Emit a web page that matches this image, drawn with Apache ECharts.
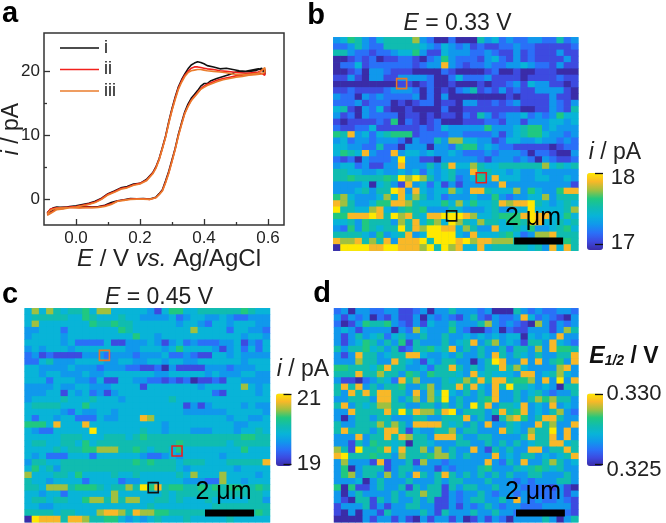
<!DOCTYPE html>
<html>
<head>
<meta charset="utf-8">
<style>html,body{margin:0;padding:0;background:#fff}#chart{width:666px;height:523px;filter:blur(0.35px)}</style>
<script src="https://cdn.jsdelivr.net/npm/echarts@6/dist/echarts.min.js"></script>
</head>
<body>
<div id="chart"></div>
<script>
// ---- panel a: cyclic voltammograms ----
const potential = [-.09,-.08,-.07,-.06,-.05,-.03,-.01,.01,.03,.05,.07,.09,.11,.13,.15,.17,.19,.21,.23,.25,.26,.27,.28,.29,.30,.31,.32,.33,.34,.35,.36,.37,.38,.39,.40,.41,.42,.44,.46,.48,.50,.52,.54,.56,.58,.59,
  .59,.57,.55,.53,.51,.49,.47,.45,.43,.41,.40,.39,.38,.37,.36,.35,.34,.33,.32,.31,.30,.29,.28,.27,.26,.25,.24,.22,.20,.18,.16,.14,.12,.10,.08,.06,.04,.02,0,-.02,-.04,-.06,-.08,-.09];
const currentI = [-2.1,-1.6,-1.3,-1.2,-1.25,-1.2,-1.15,-1.2,-1.1,-1.2,-1.1,-.9,-.5,-.2,-.05,.15,.1,.15,.05,.35,.9,1.5,2.9,4.4,6.2,8.0,10.2,12.0,13.7,14.9,15.8,16.4,17.0,17.7,18.1,18.1,18.5,18.9,19.2,19.5,19.9,19.9,20,20.1,20.5,19.5,
  20.2,20.4,20.2,20.0,20.1,20.3,20.5,20.4,20.7,20.9,21.2,21.4,21.5,21.3,21.0,20.4,19.6,18.7,17.6,16.0,14.2,12.2,9.9,8.1,6.4,5.1,4.2,3.1,2.5,2.4,2.0,1.8,1.3,.9,.2,-.3,-.6,-.8,-1,-1.1,-1.3,-1.3,-2.0,-2.3];
const currentII = [-2.2,-1.5,-1.4,-1.3,-1.3,-1.25,-1.2,-1.3,-1.2,-1.25,-1.2,-1.0,-.7,-.25,-.1,.05,.1,.1,.0,.3,.8,1.4,2.7,4.2,6.0,7.9,10.0,11.8,13.5,14.6,15.5,16.1,16.7,17.3,17.7,18.0,18.2,18.6,18.9,19.1,19.3,19.4,19.5,19.6,19.7,19.4,
  20.4,19.9,19.8,19.7,19.8,19.9,20.0,20.1,20.3,20.4,20.5,20.6,20.7,20.7,20.5,20.0,19.4,18.5,17.4,15.8,14.0,12.0,9.8,8.0,6.3,5.0,4.1,3.0,2.5,2.3,1.9,1.7,1.2,.8,.1,-.4,-.7,-.9,-1.1,-1.2,-1.4,-1.5,-2.1,-2.4];
const currentIII = [-2.3,-1.7,-1.5,-1.4,-1.35,-1.3,-1.3,-1.35,-1.3,-1.3,-1.25,-1.1,-.8,-.3,-.15,0,.05,.05,0,.25,.75,1.3,2.6,4.1,5.9,7.8,9.9,11.7,13.4,14.5,15.4,16.0,16.6,17.2,17.5,17.8,18.0,18.4,18.7,18.9,19.1,19.2,19.4,19.5,19.6,19.9,
  20.6,19.7,19.6,19.5,19.5,19.6,19.8,19.9,20.0,20.1,20.2,20.3,20.3,20.2,20.1,19.8,19.2,18.3,17.2,15.6,13.9,11.9,9.7,7.9,6.2,4.9,4.0,2.9,2.4,2.2,1.8,1.6,1.1,.7,.0,-.5,-.8,-1.0,-1.2,-1.3,-1.5,-1.6,-2.2,-2.5];
const seriesNames = ['i','ii','iii'];
const xTickLabels = [0,0.2,0.4,0.6];
const xMinorTicks = [0.1,0.3,0.5];
const yTickLabels = [0,10,20];
const yMinorTicks = [5,15];

// ---- panels b, c, d: maps, one digit per cell (0 = bottom of colour scale, 9 = top) ----
const mapB = [
"34653245555732002 00053423223322523","22353225555543243 23121122322111112",
"55322122344631143 33223211312111311","00121201122102363 22213421312111131","02241222222123383 21223223343221311",
"00120332111000021 00001200100111000","11310331133332002 42223111101111211","00000000011012001 00010112314331101",
"11211112333202010 23512131211333310","32203232222302030 00000001011113110",
"22231222010122011 03311212311113213","45103241001000020 01111111100113215","31203222201101011 02153123342323644",
"10111121602101200 01112213313334434","21122411111121243 33336333456634333","65834245666122223 32222313456643323","34233233320322537 74433124433433232",
"44332252203330332 56634322111110122","46548322834434334 32223233320221003","21203222393311033 33321333232032112","34423113383335358 44754455555574545",
"55443343343424345 33855443433433333","55655556597975345 23464844433443343","33334045318342413 13333383333333331","33345355983843447 43885444736433688",
"67433347484753423 33433632334473555","87533466887544464 74644587889543454","95544784356563335 43334533449444457","66888985978548899 98744566689884464",
"44536555375846749 75475546659844545","32636545595879988 47533844546334564","55554363458349999 43844456423778555","87785758388895999 89788777555555565",
"09999889988879597 84484555554538485"];
const mapC = [
"47475455647744444 31466445555556544","45555544654445443 33342344334322333","47444444465565544 44443443244344433","33444244444446544 44444474444244332",
"34444344444444464 43444444444443443","44444342222411333 43134232223341324","34344434444444334 44346444431342424","23121111333233323 33422321144343333",
"22453334444334433 44344334444443444","44333343332333221 12031111333233344","44344333433444444 43344444343334433","44424443324114433 22121201121443333",
"33334334433344441 44444443444447434","33344143423134444 44444444421444434","34444544454443444 44454444444444444","45555444644444444 44444131344443433",
"44444324334434444 44444333333444443","42443442224334448 74444444444344334","66648444844444444 44344444444433444","43224444494444445 44344433344434454",
"44444555444555456 55555555555556655","45544554645555555 55556555555455555","44445455667775565 45546444444446444","43422244424444443 22343444443444444",
"35544555555555565 65554555444555558","46453555555555555 55554344444434444","74445546444454454 44445474447444434","54434444244442334 44444333227443444",
"55477756665455759 68566556565665565","44344244444474444 44545555555555554","45545544677575774 45545444544444553","44334444444444444 54444444455555555",
"55554554447887587 76655555555555565","09888588755664343 45444544444544444"];
const mapD = [
"23033223311230335 33323000532322332","31323021311303232 13521322384232103","20136556321314335 33357323210731323","34313333032743336 32002302113331375",
"31353452453353353 34343434404343833","31346535361533353 45835734315538432","53556453512556458 35353352553738665","31385534558843343 53353853543533558",
"33375533854314355 33035983383835638","66555468553342558 53535585743333783","55585575536536555 43845444388345743","31102354285733354 57585885667383938",
"58583535563357355 85843859554343055","53858588553837494 35353833534532335","33555388535737593 53356833535767553","58354577553355353 53958355483438343",
"33855558595877589 35553585683435732","30355355333553355 58353057863588533","53355575753888854 53538335433857338","58555358851433557 35533385437559383",
"33383558587553888 53355333358558383","33153655450554333 55335353534558845","75195568485573735 33831535338835585","89555655375556775 35333834355343458",
"37333181335173323 33338325383357534","36035551355333132 33356333545654533","36735537353853585 35353535335533353","33340353335333535 53335333232333553",
"60611353351535515 35533533322221310","30353333535575513 23353233232222313","31055153533535113 23553353832322321","13335131335533113 13235323322233331",
"10303315333353153 33533533222222221","00003133131031331 30131320333353035"];
const rangeB = [16.92,18], ticksB = [17,18], tickLabelsB = ['17','18'];
const rangeC = [18.95,21.01], ticksC = [19,21], tickLabelsC = ['19','21'];
const rangeD = [0.32486,0.33007], ticksD = [0.325,0.33], tickLabelsD = ['0.325','0.330'];
// measurement-site squares, in micrometres on the 10 um image
const sitesB = [[2.79,2.17,'#e5772a'],[6.04,6.58,'#e8201c'],[4.83,8.37,'#111']];
const sitesC = [[3.25,2.2,'#e5772a'],[6.21,6.67,'#e8201c'],[5.24,8.38,'#111']];
const barB = [[7.38,9.55],[9.38,9.55]];
const barC = [[7.35,9.56],[9.35,9.56]];
const barD = [[7.45,9.56],[9.45,9.56]];

const FONT = '"Liberation Sans", Arial, sans-serif';
const INK = '#222';
const colormap = ['#3a2ca8','#3d4ae0','#2a70f8','#1098ec','#08b4d8','#10bcb0','#20c880','#a0c040','#f8b828','#ffe800'];

const grid=[],xAxis=[],yAxis=[],series=[],visualMap=[],graphic=[];

function label(text,x,y,size,extra){
  graphic.push({type:'text',x:x,y:y,silent:true,z:50,style:Object.assign({text:text,fontFamily:FONT,fontSize:size,fill:INK,align:'center',verticalAlign:'middle',
    rich:{it:{fontStyle:'italic',fontFamily:FONT,fontSize:size,fill:INK}}},extra||{})});
}

// ---- panel a ----
grid.push({left:44,top:33,width:240,height:192,outerBoundsMode:'none',show:true,borderColor:'#333',borderWidth:1.5,backgroundColor:'transparent'});
const tickLine={lineStyle:{color:'#333',width:1.3}};
xAxis.push({type:'value',gridIndex:0,min:-0.1,max:0.65,splitLine:{show:false},axisLine:{show:false,onZero:false},
  axisTick:Object.assign({show:true,inside:true,length:6,customValues:xTickLabels},tickLine),
  axisLabel:{customValues:xTickLabels,formatter:v=>v.toFixed(1),fontFamily:FONT,fontSize:17,color:INK,margin:5},
  name:'{it|E} / V {it|vs.} Ag/AgCl',nameLocation:'middle',nameGap:22,nameMoveOverlap:false,
  nameTextStyle:{fontFamily:FONT,fontSize:24,color:INK,padding:[0,0,0,10],rich:{it:{fontStyle:'italic',fontFamily:FONT,fontSize:24,color:INK}}}});
xAxis.push({type:'value',gridIndex:0,min:-0.1,max:0.65,splitLine:{show:false},axisLine:{show:false,onZero:false},position:'bottom',
  axisTick:Object.assign({show:true,inside:true,length:3,customValues:xMinorTicks},tickLine),axisLabel:{show:false}});
yAxis.push({type:'value',gridIndex:0,min:-4,max:26,splitLine:{show:false},axisLine:{show:false,onZero:false},
  axisTick:Object.assign({show:true,inside:true,length:6,customValues:yTickLabels},tickLine),
  axisLabel:{customValues:yTickLabels,fontFamily:FONT,fontSize:17,color:INK,margin:4},
  name:'{it|i} / pA',nameLocation:'middle',nameGap:21,nameRotate:90,nameMoveOverlap:false,
  nameTextStyle:{fontFamily:FONT,fontSize:23,color:INK,rich:{it:{fontStyle:'italic',fontFamily:FONT,fontSize:23,color:INK}}}});
yAxis.push({type:'value',gridIndex:0,min:-4,max:26,splitLine:{show:false},axisLine:{show:false,onZero:false},position:'left',
  axisTick:Object.assign({show:true,inside:true,length:3,customValues:yMinorTicks},tickLine),axisLabel:{show:false}});
[[currentI,'#111'],[currentII,'#f2211c'],[currentIII,'#ea7d2d']].forEach((s,k)=>{
  series.push({type:'line',name:seriesNames[k],xAxisIndex:0,yAxisIndex:0,symbol:'none',smooth:false,silent:true,animation:false,
    lineStyle:{color:s[1],width:1.6},itemStyle:{color:s[1]},data:potential.map((e,n)=>[e,s[0][n]])});
});

// ---- heat-map panels ----
function heatPanel(o){
  const g=grid.length;
  grid.push({left:o.x,top:o.y,width:o.w,height:o.h,outerBoundsMode:'none',show:true,borderWidth:0,backgroundColor:'#10b0c8'});
  const cats=[...Array(34).keys()];
  const xi=xAxis.length,yi=yAxis.length;
  xAxis.push({type:'category',gridIndex:g,data:cats,show:false});
  yAxis.push({type:'category',gridIndex:g,data:cats,inverse:true,show:false});
  xAxis.push({type:'value',gridIndex:g,min:0,max:10,show:false,axisLine:{onZero:false}});
  yAxis.push({type:'value',gridIndex:g,min:0,max:10,inverse:true,show:false,axisLine:{onZero:false}});
  const data=[];
  o.rows.forEach((row,r)=>{
    row.replace(/\s/g,'').split('').forEach((d,c)=>{
      data.push([c,r,o.range[0]+(o.range[1]-o.range[0])*Number(d)/9]);
    });
  });
  const si=series.length;
  series.push({type:'heatmap',xAxisIndex:xi,yAxisIndex:yi,data:data,silent:true,animation:false,progressive:0,itemStyle:{borderWidth:0}});
  (o.sites||[]).forEach(s=>{
    series.push({type:'scatter',xAxisIndex:xi+1,yAxisIndex:yi+1,symbol:'rect',symbolSize:10,silent:true,animation:false,z:5,
      itemStyle:{color:'rgba(0,0,0,0)',borderColor:s[2],borderWidth:1.6,opacity:1},data:[[s[0],s[1]]]});
  });
  series.push({type:'line',xAxisIndex:xi+1,yAxisIndex:yi+1,symbol:'none',silent:true,animation:false,z:6,
    lineStyle:{color:'#000',width:7,cap:'butt'},data:o.bar});
  // colour bar
  visualMap.push({type:'continuous',seriesIndex:si,min:o.range[0],max:o.range[1],show:true,calculable:false,hoverLink:false,realtime:false,
    left:o.cb[0],top:o.cb[1],itemWidth:o.cb[2],itemHeight:o.cb[3],padding:0,text:null,showLabel:false,
    textStyle:{fontSize:0,color:'rgba(0,0,0,0)'},inRange:{color:colormap},z:4});
  const cg=grid.length;
  grid.push({left:o.cb[0],top:o.cb[1],width:o.cb[2],height:o.cb[3],outerBoundsMode:'none'});
  xAxis.push({type:'value',gridIndex:cg,min:0,max:1,show:false,axisLine:{onZero:false}});
  yAxis.push({type:'value',gridIndex:cg,position:'right',min:o.range[0],max:o.range[1],z:10,splitLine:{show:false},axisLine:{show:false,onZero:false},
    axisTick:{show:true,inside:true,length:8,customValues:o.ticks,lineStyle:{color:'#111',width:1.3}},axisLabel:{show:false}});
  o.tickText.forEach(t=>label(t[0],t[1],t[2],22));
  label('2 \u03bcm',o.scaleText[0],o.scaleText[1],25,{fill:'#000'});
}
heatPanel({x:333.3,y:37.3,w:245,h:213.4,rows:mapB,range:rangeB,ticks:ticksB,sites:sitesB,bar:barB,cb:[587,173,16,77],
  tickText:[[tickLabelsB[1],623,178],[tickLabelsB[0],623,243]],scaleText:[533,218]});
heatPanel({x:24.7,y:308.3,w:245.3,h:214,rows:mapC,range:rangeC,ticks:ticksC,sites:sitesC,bar:barC,cb:[276,393.5,15.5,72.5],
  tickText:[[tickLabelsC[1],309,399],[tickLabelsC[0],309,464]],scaleText:[223.5,491.7]});
heatPanel({x:334,y:308.3,w:244.3,h:214,rows:mapD,range:rangeD,bar:barD,ticks:ticksD,cb:[587,393.5,16,72.5],
  tickText:[[tickLabelsD[1],634,394],[tickLabelsD[0],634,470]],scaleText:[533,491.7]});

// ---- titles and letters ----
label('{it|E} = 0.33 V',457.5,24,23);
label('{it|E} = 0.45 V',159,297.7,23);
label('{it|i} / pA',615,153,23);
label('{it|i} / pA',303,370,23);
graphic.push({type:'text',x:624,y:357,silent:true,z:50,style:{text:'{e|E}{s|1/2}{b| / V}',align:'center',verticalAlign:'middle',fontFamily:FONT,
  rich:{e:{fontFamily:FONT,fontStyle:'italic',fontWeight:'bold',fontSize:23,fill:'#111'},
        s:{fontFamily:FONT,fontStyle:'italic',fontWeight:'bold',fontSize:14,fill:'#111',padding:[8,0,0,0]},
        b:{fontFamily:FONT,fontWeight:'bold',fontSize:23,fill:'#111'}}}});
[['a',10,14],['b',316,16],['c',10,295],['d',322,294]].forEach(l=>{
  graphic.push({type:'text',x:l[1],y:l[2],silent:true,z:50,style:{text:l[0],align:'center',verticalAlign:'middle',fontFamily:FONT,fontWeight:'bold',fontSize:29,fill:'#000'}});
});

const chart=echarts.init(document.getElementById('chart'),null,{renderer:'canvas',width:666,height:523});
chart.setOption({animation:false,backgroundColor:'#fff',textStyle:{fontFamily:FONT},
  legend:{show:true,data:seriesNames,orient:'vertical',left:60,top:39,icon:'rect',itemWidth:39,itemHeight:1.7,itemGap:3.5,padding:0,selectedMode:false,
    textStyle:{fontFamily:FONT,fontSize:18,color:INK}},
  grid,xAxis,yAxis,series,visualMap,graphic});
</script>
</body>
</html>
